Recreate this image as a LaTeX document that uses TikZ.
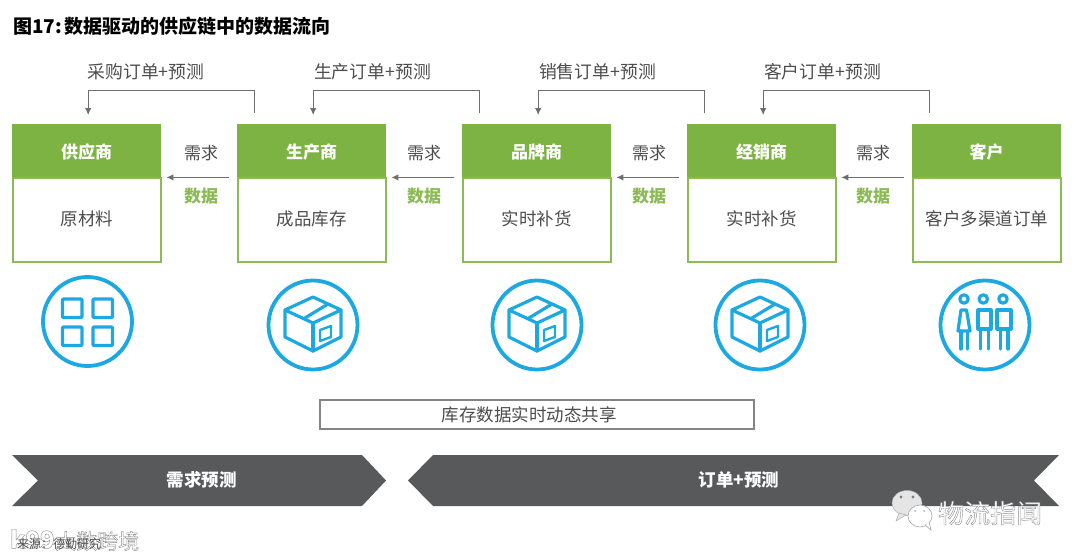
\documentclass[tikz,border=0pt]{standalone}
\usepackage{fontspec}
\setmainfont{Noto Sans CJK SC}
\usetikzlibrary{arrows.meta}
\definecolor{grn}{HTML}{7CB342}
\definecolor{grnl}{HTML}{8CBB55}
\definecolor{ltxt}{HTML}{4D4D4F}
\definecolor{darkbar}{HTML}{58595B}
\definecolor{icn}{HTML}{1CA9E1}
\definecolor{wire}{HTML}{6D6E70}
\newcommand{\fs}[1]{\fontsize{#1}{#1}\selectfont}
\newcommand{\outl}[2]{\special{pdf:code q 2 Tr #1 w 0.55 G 1 g}#2\special{pdf:code 0 Tr Q}}
\tikzset{
  x=1pt,y=-1pt,
  hdr/.style={fill=grn,minimum width=149pt,minimum height=53pt,anchor=north west,inner sep=0pt,text=white,font=\fs{17}\bfseries,text height=16pt,text depth=0pt},
  bodybox/.style={draw=grnl,line width=1.8pt,fill=white,minimum width=148pt,minimum height=84pt,anchor=north west,inner sep=0pt,text=ltxt,font=\fs{17.5},text height=11pt,text depth=0pt},
  wirearrow/.style={draw=wire,line width=1pt,-{Latex[length=7pt,width=6.5pt]}},
  lbl/.style={text=ltxt,font=\fs{17},inner sep=0pt},
  datalbl/.style={text=grnl,font=\fs{17}\bfseries,inner sep=0pt},
  ring/.style={draw=icn,line width=3.8pt},
  ico/.style={draw=icn,line width=3.2pt,line join=round,line cap=round},
  chev/.style={fill=darkbar,draw=none},
  pics/boxicon/.style={code={
    \draw[ico] (0,-28)--(28,-15)--(28,12)--(0,26)--(-28,12)--(-28,-15)--cycle;
    \draw[ico] (-28,-15)--(0,-2)--(28,-15);
    \draw[ico] (0,-2)--(0,26);
    \draw[ico] (-8,-7)--(15,-21);
    \draw[ico,line width=2.4pt] (7,5)--(18,1)--(18,12)--(7,16)--cycle;
  }}
}
\begin{document}
\begin{tikzpicture}
\useasboundingbox (0,0) rectangle (1080,560);
\node[anchor=west,inner sep=0pt,text=black,font=\fs{19}\bfseries] (title) at (13,26) {图17:\hspace{2pt}数据驱动的供应链中的数据流向};

% boxes
\foreach \n/\x/\h/\b in {1/12/供应商/原材料,2/237/生产商/成品库存,3/462/品牌商/实时补货,4/687/经销商/实时补货,5/912/客户/客户多渠道订单}{
  \node[bodybox] (body\n) at (\x,177) {\b};
  \node[hdr] (hdr\n) at (\x,124) {\h};
}
% demand arrows and labels
\foreach \a/\b/\c in {2/1/201,3/2/424,4/3/649,5/4/873}{
  \draw[wirearrow,shorten <=8pt,shorten >=5pt] (hdr\a.south west) -- (hdr\b.south east);
  \node[lbl] (dem\a) at (\c,153) {需求};
  \node[datalbl] (dat\a) at (\c,196) {数据};
}
% top arrows
\foreach \a/\b/\t/\c in {2/1/采购订单+预测/146,3/2/生产订单+预测/372.5,4/3/销售订单+预测/597.5,5/4/客户订单+预测/822.5}{
  \coordinate (src\a) at ([xshift=17.5pt,yshift=11pt]hdr\a.north west);
  \coordinate (dst\b) at ([xshift=1.5pt,yshift=9pt]hdr\b.north);
  \draw[wirearrow] (src\a) -- ++(0,-23) -| (dst\b);
  \node[lbl,font=\fs{17.8}] (top\a) at (\c,72) {\t};
}
% icons
\draw[ring] (87.5,321.5) circle (44.5);
\foreach \p/\q in {62.5/299,93/299,62.5/327,93/327}{
  \draw[ico,rounded corners=0.8pt] (\p,\q) rectangle ++(19.5,18.5);
}
\foreach \cx in {313,537,760}{
  \draw[ring] (\cx,325) circle (44.5);
  \pic at (\cx,325) {boxicon};
}
\draw[ring] (985,325) circle (44.5);
\begin{scope}[shift={(985,323)}]
  \foreach \hx in {-21,-1.7,18}{\draw[ico] (\hx,-24) circle (4.2);}
  \draw[ico] (-24,-13)--(-18.5,-13)--(-15,8)--(-27,8)--cycle;
  \draw[ico] (-24,8)--(-24,26) (-17.5,8)--(-17.5,26);
  \draw[ico] (-7,-13) rectangle (6,6);
  \draw[ico] (-4.3,6)--(-4.3,26) (3.3,6)--(3.3,26);
  \draw[ico] (12,-13) rectangle (26,6);
  \draw[ico] (15.5,6)--(15.5,26) (23,6)--(23,26);
\end{scope}
% shared box
\node[draw=wire!85,line width=2pt,fill=white,minimum width=434.5pt,minimum height=29.5pt,inner sep=0pt,text=ltxt,font=\fs{17.5}] (share) at (537,414.5) {\hspace{-16pt}库存数据实时动态共享};
% chevrons
\fill[chev] (12,455)--(362,455)--(386,480.5)--(362,506)--(12,506)--(38,480.5)--cycle;
\fill[chev] (1059,455)--(433,455)--(408,480.5)--(433,506)--(1059,506)--(1034,480.5)--cycle;
\node[text=white,font=\fs{17.5}\bfseries,inner sep=0pt] (bar1) at (201.5,480) {需求预测};
\node[text=white,font=\fs{17.5}\bfseries,inner sep=0pt] (bar2) at (739,480) {订单+预测};
% watermarks + source
\node[anchor=west,inner sep=0pt,font=\fs{21}] (wm1) at (55,541) {\outl{0.4}{大数跨境}};
\node[anchor=west,inner sep=0pt,font=\fs{24}\bfseries] (wm0) at (10,539) {\outl{0.4}{k99}};
\node[anchor=west,inner sep=0pt,text=ltxt,font=\fs{12}] (src) at (17,544) {来源：德勤研究};
% wechat
\fill[black!10,draw=black!30,line width=0.5pt] (907,503) ellipse (15 and 12.5);
\fill[black!10,draw=black!30,line width=0.5pt] (899,513)--(896,521)--(906,515)--cycle;
\fill[black!50] (901,497) circle (1.6) (913,497) circle (1.6);
\fill[white,draw=black!35,line width=0.6pt] (920,516) ellipse (12 and 11);
\fill[white,draw=black!35,line width=0.6pt] (925,525)--(931,530)--(929,522)--cycle;
\fill[white] (920,522) ellipse (9 and 3);
\fill[black!30] (915,511) circle (1) (924,511) circle (1);
\node[anchor=west,inner sep=0pt,font=\fs{26}] (wm2) at (938,513) {\outl{0.4}{物流指闻}};
\end{tikzpicture}
\end{document}
